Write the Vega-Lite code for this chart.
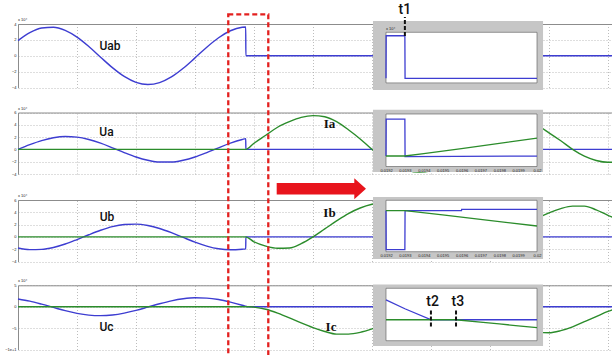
{
"$schema": "https://vega.github.io/schema/vega-lite/v6.json",
"width": 612, "height": 355, "autosize": "none", "padding": 0, "background": "white",
"config": {"view": {"stroke": null},
 "axis": {"labelFontSize": 4, "labelFont": "Liberation Sans", "labelColor": "#222", "gridColor": "#a0a0a0", "gridDash": [1, 2], "gridWidth": 0.7, "domainColor": "#8c8c8c", "domainWidth": 1, "labelFlush": false, "labelOverlap": false, "labelBound": false, "ticks": false}},
"datasets": {
"p1": [
{"t":0,"v":1.90,"s":"U"},{"t":0.001,"v":2.90,"s":"U"},{"t":0.002,"v":3.49,"s":"U"},{"t":0.003,"v":3.60,"s":"U"},{"t":0.004,"v":3.19,"s":"U"},{"t":0.005,"v":2.34,"s":"U"},{"t":0.006,"v":1.16,"s":"U"},{"t":0.007,"v":-0.18,"s":"U"},{"t":0.008,"v":-1.50,"s":"U"},{"t":0.009,"v":-2.61,"s":"U"},{"t":0.010,"v":-3.35,"s":"U"},{"t":0.011,"v":-3.62,"s":"U"},{"t":0.012,"v":-3.38,"s":"U"},{"t":0.013,"v":-2.67,"s":"U"},{"t":0.014,"v":-1.58,"s":"U"},{"t":0.015,"v":-0.27,"s":"U"},{"t":0.016,"v":1.08,"s":"U"},{"t":0.017,"v":2.27,"s":"U"},{"t":0.018,"v":3.15,"s":"U"},{"t":0.019,"v":3.59,"s":"U"},{"t":0.0193,"v":3.62,"s":"U"},{"t":0.01931,"v":0,"s":"U"},{"t":0.0504,"v":0,"s":"U"}],
"p2": [
{"t":0,"v":0,"s":"U"},{"t":0.001,"v":0.77,"s":"U"},{"t":0.002,"v":1.43,"s":"U"},{"t":0.003,"v":1.89,"s":"U"},{"t":0.004,"v":2.09,"s":"U"},{"t":0.005,"v":1.99,"s":"U"},{"t":0.006,"v":1.61,"s":"U"},{"t":0.007,"v":1.01,"s":"U"},{"t":0.008,"v":0.26,"s":"U"},{"t":0.009,"v":-0.52,"s":"U"},{"t":0.010,"v":-1.23,"s":"U"},{"t":0.011,"v":-1.76,"s":"U"},{"t":0.012,"v":-2.05,"s":"U"},{"t":0.013,"v":-2.05,"s":"U"},{"t":0.014,"v":-1.76,"s":"U"},{"t":0.015,"v":-1.23,"s":"U"},{"t":0.016,"v":-0.52,"s":"U"},{"t":0.017,"v":0.26,"s":"U"},{"t":0.018,"v":1.01,"s":"U"},{"t":0.019,"v":1.61,"s":"U"},{"t":0.0193,"v":1.75,"s":"U"},{"t":0.01931,"v":0,"s":"U"},{"t":0.0504,"v":0,"s":"U"},
{"t":0,"v":0,"s":"I"},{"t":0.0193,"v":0,"s":"I"},{"t":0.020,"v":1.0,"s":"I"},{"t":0.021,"v":2.3,"s":"I"},{"t":0.022,"v":3.6,"s":"I"},{"t":0.023,"v":4.5,"s":"I"},{"t":0.024,"v":5.2,"s":"I"},{"t":0.025,"v":5.5,"s":"I"},{"t":0.026,"v":5.3,"s":"I"},{"t":0.027,"v":4.5,"s":"I"},{"t":0.028,"v":3.2,"s":"I"},{"t":0.029,"v":1.7,"s":"I"},{"t":0.030,"v":0,"s":"I"},{"t":0.031,"v":-1.4,"s":"I"},{"t":0.032,"v":-2.6,"s":"I"},{"t":0.033,"v":-3.4,"s":"I"},{"t":0.034,"v":-3.7,"s":"I"},{"t":0.035,"v":-3.5,"s":"I"},{"t":0.036,"v":-2.9,"s":"I"},{"t":0.037,"v":-1.9,"s":"I"},{"t":0.038,"v":-0.6,"s":"I"},{"t":0.039,"v":0.8,"s":"I"},{"t":0.040,"v":2.2,"s":"I"},{"t":0.041,"v":3.4,"s":"I"},{"t":0.042,"v":4.2,"s":"I"},{"t":0.043,"v":4.4,"s":"I"},{"t":0.044,"v":3.9,"s":"I"},{"t":0.045,"v":2.7,"s":"I"},{"t":0.046,"v":1.4,"s":"I"},{"t":0.047,"v":0,"s":"I"},{"t":0.048,"v":-1.1,"s":"I"},{"t":0.049,"v":-1.8,"s":"I"},{"t":0.050,"v":-2.1,"s":"I"},{"t":0.0504,"v":-2.1,"s":"I"}],
"p3": [
{"t":0,"v":-1.81,"s":"U"},{"t":0.001,"v":-2.07,"s":"U"},{"t":0.002,"v":-2.03,"s":"U"},{"t":0.003,"v":-1.72,"s":"U"},{"t":0.004,"v":-1.16,"s":"U"},{"t":0.005,"v":-0.43,"s":"U"},{"t":0.006,"v":0.35,"s":"U"},{"t":0.007,"v":1.08,"s":"U"},{"t":0.008,"v":1.67,"s":"U"},{"t":0.009,"v":2.01,"s":"U"},{"t":0.010,"v":2.08,"s":"U"},{"t":0.011,"v":1.85,"s":"U"},{"t":0.012,"v":1.37,"s":"U"},{"t":0.013,"v":0.69,"s":"U"},{"t":0.014,"v":-0.09,"s":"U"},{"t":0.015,"v":-0.85,"s":"U"},{"t":0.016,"v":-1.49,"s":"U"},{"t":0.017,"v":-1.93,"s":"U"},{"t":0.018,"v":-2.09,"s":"U"},{"t":0.019,"v":-2.0,"s":"U"},{"t":0.0193,"v":-1.95,"s":"U"},{"t":0.01931,"v":0,"s":"U"},{"t":0.0504,"v":0,"s":"U"},
{"t":0,"v":0,"s":"I"},{"t":0.0193,"v":0,"s":"I"},{"t":0.020,"v":-0.8,"s":"I"},{"t":0.021,"v":-1.5,"s":"I"},{"t":0.022,"v":-1.85,"s":"I"},{"t":0.023,"v":-1.8,"s":"I"},{"t":0.024,"v":-1.1,"s":"I"},{"t":0.025,"v":0,"s":"I"},{"t":0.026,"v":1.3,"s":"I"},{"t":0.027,"v":2.6,"s":"I"},{"t":0.028,"v":3.8,"s":"I"},{"t":0.029,"v":4.7,"s":"I"},{"t":0.030,"v":5.3,"s":"I"},{"t":0.031,"v":5.6,"s":"I"},{"t":0.032,"v":5.5,"s":"I"},{"t":0.033,"v":4.8,"s":"I"},{"t":0.034,"v":3.6,"s":"I"},{"t":0.035,"v":2.0,"s":"I"},{"t":0.036,"v":0.3,"s":"I"},{"t":0.037,"v":-1.2,"s":"I"},{"t":0.038,"v":-2.2,"s":"I"},{"t":0.039,"v":-2.6,"s":"I"},{"t":0.040,"v":-2.3,"s":"I"},{"t":0.041,"v":-1.2,"s":"I"},{"t":0.042,"v":0.3,"s":"I"},{"t":0.043,"v":1.8,"s":"I"},{"t":0.044,"v":3.0,"s":"I"},{"t":0.045,"v":3.9,"s":"I"},{"t":0.046,"v":4.6,"s":"I"},{"t":0.047,"v":5.0,"s":"I"},{"t":0.048,"v":5.0,"s":"I"},{"t":0.049,"v":4.4,"s":"I"},{"t":0.050,"v":3.5,"s":"I"},{"t":0.0504,"v":3.2,"s":"I"}],
"p4": [
{"t":0,"v":1.81,"s":"U"},{"t":0.001,"v":1.30,"s":"U"},{"t":0.002,"v":0.60,"s":"U"},{"t":0.003,"v":-0.17,"s":"U"},{"t":0.004,"v":-0.93,"s":"U"},{"t":0.005,"v":-1.55,"s":"U"},{"t":0.006,"v":-1.96,"s":"U"},{"t":0.007,"v":-2.09,"s":"U"},{"t":0.008,"v":-1.93,"s":"U"},{"t":0.009,"v":-1.49,"s":"U"},{"t":0.010,"v":-0.85,"s":"U"},{"t":0.011,"v":-0.09,"s":"U"},{"t":0.012,"v":0.69,"s":"U"},{"t":0.013,"v":1.37,"s":"U"},{"t":0.014,"v":1.85,"s":"U"},{"t":0.015,"v":2.08,"s":"U"},{"t":0.016,"v":2.01,"s":"U"},{"t":0.017,"v":1.67,"s":"U"},{"t":0.018,"v":1.08,"s":"U"},{"t":0.019,"v":0.35,"s":"U"},{"t":0.0192,"v":0.19,"s":"U"},{"t":0.01944,"v":0,"s":"U"},{"t":0.0504,"v":0,"s":"U"},
{"t":0,"v":0,"s":"I"},{"t":0.0196,"v":0,"s":"I"},{"t":0.020,"v":-0.1,"s":"I"},{"t":0.021,"v":-0.6,"s":"I"},{"t":0.022,"v":-1.5,"s":"I"},{"t":0.023,"v":-2.6,"s":"I"},{"t":0.024,"v":-3.8,"s":"I"},{"t":0.025,"v":-4.9,"s":"I"},{"t":0.026,"v":-5.8,"s":"I"},{"t":0.027,"v":-6.4,"s":"I"},{"t":0.028,"v":-6.4,"s":"I"},{"t":0.029,"v":-6.0,"s":"I"},{"t":0.030,"v":-5.2,"s":"I"},{"t":0.031,"v":-4.2,"s":"I"},{"t":0.032,"v":-2.8,"s":"I"},{"t":0.033,"v":-1.0,"s":"I"},{"t":0.034,"v":0.9,"s":"I"},{"t":0.035,"v":2.4,"s":"I"},{"t":0.036,"v":3.3,"s":"I"},{"t":0.037,"v":3.6,"s":"I"},{"t":0.038,"v":3.1,"s":"I"},{"t":0.039,"v":1.9,"s":"I"},{"t":0.040,"v":0.2,"s":"I"},{"t":0.041,"v":-1.8,"s":"I"},{"t":0.042,"v":-3.6,"s":"I"},{"t":0.043,"v":-5.0,"s":"I"},{"t":0.044,"v":-6.0,"s":"I"},{"t":0.045,"v":-6.1,"s":"I"},{"t":0.046,"v":-5.6,"s":"I"},{"t":0.047,"v":-4.7,"s":"I"},{"t":0.048,"v":-3.5,"s":"I"},{"t":0.049,"v":-2.3,"s":"I"},{"t":0.050,"v":-1.1,"s":"I"},{"t":0.0504,"v":-0.7,"s":"I"}],
"i1": [{"t":0.0192,"v":0,"s":"U"},{"t":0.019201,"v":3.7,"s":"U"},{"t":0.0193,"v":3.7,"s":"U"},{"t":0.019301,"v":0,"s":"U"},{"t":0.02,"v":0,"s":"U"}],
"i2": [{"t":0.0192,"v":0,"s":"U"},{"t":0.019201,"v":17600,"s":"U"},{"t":0.0193,"v":17600,"s":"U"},{"t":0.019301,"v":-250,"s":"U"},{"t":0.02,"v":-50,"s":"U"},
{"t":0.0192,"v":0,"s":"I"},{"t":0.0193,"v":0,"s":"I"},{"t":0.0194,"v":1150,"s":"I"},{"t":0.0196,"v":3550,"s":"I"},{"t":0.0198,"v":6000,"s":"I"},{"t":0.02,"v":8500,"s":"I"}],
"i3": [{"t":0.0192,"v":0,"s":"U"},{"t":0.019201,"v":-19000,"s":"U"},{"t":0.0193,"v":-19000,"s":"U"},{"t":0.019301,"v":0,"s":"U"},{"t":0.0196,"v":0,"s":"U"},{"t":0.019601,"v":600,"s":"U"},{"t":0.02,"v":600,"s":"U"},
{"t":0.0192,"v":0,"s":"I"},{"t":0.0193,"v":0,"s":"I"},{"t":0.0195,"v":-2100,"s":"I"},{"t":0.0197,"v":-4300,"s":"I"},{"t":0.02,"v":-7500,"s":"I"}],
"i4": [{"t":0.0192,"v":1900,"s":"U"},{"t":0.0193,"v":1050,"s":"U"},{"t":0.01944,"v":0,"s":"U"},{"t":0.02,"v":0,"s":"U"},
{"t":0.0192,"v":0,"s":"I"},{"t":0.01957,"v":0,"s":"I"},{"t":0.0197,"v":-220,"s":"I"},{"t":0.0198,"v":-400,"s":"I"},{"t":0.0199,"v":-580,"s":"I"},{"t":0.02,"v":-760,"s":"I"}]
},
"layer": [
{"data": {"name": "p1"}, "mark": {"type": "line", "interpolate": "monotone", "strokeWidth": 1.4},
 "encoding": {
  "x": {"field": "t", "type": "quantitative", "scale": {"domain": [0, 0.0504], "range": [18, 612.7], "nice": false, "zero": false}, "axis": {"orient": "top", "offset": -24, "values": [0,0.005,0.01,0.015,0.02,0.025,0.03,0.035,0.04,0.045,0.05], "grid": true, "labels": false, "domain": true, "title": null}},
  "y": {"field": "v", "type": "quantitative", "scale": {"domain": [-4, 4], "range": [87.5, 24], "nice": false, "zero": false}, "axis": {"orient": "left", "offset": -18, "values": [-4,-2,0,2,4], "grid": true, "domain": true, "format": "~g", "labelPadding": 2, "title": null}},
  "color": {"field": "s", "type": "nominal", "scale": {"domain": ["U","I"], "range": ["#3d3dd1","#2b8c2b"]}, "legend": null}}},
{"layer": [
 {"data": {"values": [{}]}, "mark": {"type": "text", "font": "Roboto", "fontSize": 12, "fontWeight": 500, "color": "#111"},
  "encoding": {"x": {"datum": 0.0078, "type": "quantitative", "scale": {"domain": [0, 0.0504], "range": [18, 612.7], "nice": false, "zero": false}, "axis": {"orient": "bottom", "offset": -267.5, "values": [0,0.005,0.01,0.015,0.02,0.025,0.03,0.035,0.04,0.045,0.05], "grid": false, "domain": true, "format": "~g", "labelPadding": 1, "title": null}},
   "y": {"datum": 1.23, "type": "quantitative", "scale": {"domain": [-4, 4], "range": [87.5, 24], "nice": false, "zero": false}, "axis": null}, "text": {"value": "Uab"}}},
 {"data": {"values": [{}]}, "mark": {"type": "text", "fontSize": 4, "align": "left", "dy": -4, "color": "#222", "font": "Liberation Sans"},
  "encoding": {"x": {"datum": 0, "type": "quantitative", "scale": {"domain": [0, 0.0504], "range": [18, 612.7], "nice": false, "zero": false}, "axis": null},
   "y": {"datum": 4, "type": "quantitative", "scale": {"domain": [-4, 4], "range": [87.5, 24], "nice": false, "zero": false}, "axis": null}, "text": {"value": "x 10⁴"}}}
]},
{"layer": [
 {"data": {"values": [{}]}, "mark": {"type": "rect", "fill": "#c6c6c6"},
  "encoding": {"x": {"datum": 0.019131, "type": "quantitative", "scale": {"domain": [0.0192, 0.02], "range": [386, 537], "nice": false, "zero": false}, "axis": {"orient": "top", "offset": -32.3, "values": [0.0192,0.0193,0.0194,0.0195,0.0196,0.0197,0.0198,0.0199,0.02], "grid": true, "labels": false, "domain": false, "zindex": 1, "title": null}}, "x2": {"datum": 0.020032},
   "y": {"datum": 4.98, "type": "quantitative", "scale": {"domain": [-0.4, 4], "range": [82.9, 32.3], "nice": false, "zero": false}, "axis": {"orient": "left", "offset": -386, "values": [0,1,2,3,4], "grid": true, "domain": false, "zindex": 1, "format": "~g", "labelPadding": 2, "title": null}}, "y2": {"datum": -1.02}}},
 {"data": {"values": [{}]}, "mark": {"type": "rect", "fill": "white", "stroke": "#555", "strokeWidth": 0.6},
  "encoding": {"x": {"datum": 0.0192, "type": "quantitative", "scale": {"domain": [0.0192, 0.02], "range": [386, 537], "nice": false, "zero": false}, "axis": null}, "x2": {"datum": 0.02},
   "y": {"datum": 4, "type": "quantitative", "scale": {"domain": [-0.4, 4], "range": [82.9, 32.3], "nice": false, "zero": false}, "axis": null}, "y2": {"datum": -0.4}}}
]},
{"layer": [
 {"data": {"name": "i1"}, "mark": {"type": "line", "strokeWidth": 1.3},
  "encoding": {"x": {"field": "t", "type": "quantitative", "scale": {"domain": [0.0192, 0.02], "range": [386, 537], "nice": false, "zero": false}, "axis": {"orient": "bottom", "offset": -272.1, "values": [0.0192,0.0193,0.0194,0.0195,0.0196,0.0197,0.0198,0.0199,0.02], "grid": false, "domain": false, "zindex": 1, "format": "~g", "labelPadding": 1.5, "title": null}},
   "y": {"field": "v", "type": "quantitative", "scale": {"domain": [-0.4, 4], "range": [82.9, 32.3], "nice": false, "zero": false}, "axis": null},
   "color": {"field": "s", "type": "nominal", "scale": {"domain": ["U","I"], "range": ["#3d3dd1","#2b8c2b"]}, "legend": null}}},
 {"data": {"values": [{}]}, "mark": {"type": "text", "fontSize": 4, "align": "left", "dy": -3, "color": "#222", "font": "Liberation Sans"},
  "encoding": {"x": {"datum": 0.0192, "type": "quantitative", "scale": {"domain": [0.0192, 0.02], "range": [386, 537], "nice": false, "zero": false}, "axis": null},
   "y": {"datum": 4, "type": "quantitative", "scale": {"domain": [-0.4, 4], "range": [82.9, 32.3], "nice": false, "zero": false}, "axis": null}, "text": {"value": "x 10⁴"}}},
 {"data": {"values": [{}]}, "mark": {"type": "rule", "strokeDash": [4, 2], "strokeWidth": 2, "color": "#111"},
  "encoding": {"x": {"datum": 0.0193, "type": "quantitative", "scale": {"domain": [0.0192, 0.02], "range": [386, 537], "nice": false, "zero": false}, "axis": null},
   "y": {"datum": 3.68, "type": "quantitative", "scale": {"domain": [-0.4, 4], "range": [82.9, 32.3], "nice": false, "zero": false}, "axis": null}, "y2": {"datum": 5.33}}},
 {"data": {"values": [{}]}, "mark": {"type": "text", "font": "Roboto", "fontSize": 14, "fontWeight": 500, "color": "#111"},
  "encoding": {"x": {"datum": 0.0193, "type": "quantitative", "scale": {"domain": [0.0192, 0.02], "range": [386, 537], "nice": false, "zero": false}, "axis": null},
   "y": {"datum": 5.9, "type": "quantitative", "scale": {"domain": [-0.4, 4], "range": [82.9, 32.3], "nice": false, "zero": false}, "axis": null}, "text": {"value": "t1"}}}
]},
{"data": {"name": "p2"}, "mark": {"type": "line", "interpolate": "monotone", "strokeWidth": 1.4},
 "encoding": {
  "x": {"field": "t", "type": "quantitative", "scale": {"domain": [0, 0.0504], "range": [18, 612.7], "nice": false, "zero": false}, "axis": {"orient": "top", "offset": -112.5, "values": [0,0.005,0.01,0.015,0.02,0.025,0.03,0.035,0.04,0.045,0.05], "grid": true, "labels": false, "domain": true, "title": null}},
  "y": {"field": "v", "type": "quantitative", "scale": {"domain": [-4, 6], "range": [174, 112.5], "nice": false, "zero": false}, "axis": {"orient": "left", "offset": -18, "values": [-4,-2,0,2,4,6], "grid": true, "domain": true, "format": "~g", "labelPadding": 2, "title": null}},
  "color": {"field": "s", "type": "nominal", "scale": {"domain": ["U","I"], "range": ["#3d3dd1","#2b8c2b"]}, "legend": null}}},
{"layer": [
 {"data": {"values": [{}]}, "mark": {"type": "text", "font": "Roboto", "fontSize": 12, "fontWeight": 500, "color": "#111"},
  "encoding": {"x": {"datum": 0.0075, "type": "quantitative", "scale": {"domain": [0, 0.0504], "range": [18, 612.7], "nice": false, "zero": false}, "axis": {"orient": "bottom", "offset": -181, "values": [0,0.005,0.01,0.015,0.02,0.025,0.03,0.035,0.04,0.045,0.05], "grid": false, "domain": true, "format": "~g", "labelPadding": 1, "title": null}},
   "y": {"datum": 2.88, "type": "quantitative", "scale": {"domain": [-4, 6], "range": [174, 112.5], "nice": false, "zero": false}, "axis": null}, "text": {"value": "Ua"}}},
 {"data": {"values": [{}]}, "mark": {"type": "text", "font": "Liberation Serif", "fontSize": 13, "fontWeight": "bold", "color": "#111"},
  "encoding": {"x": {"datum": 0.0264, "type": "quantitative", "scale": {"domain": [0, 0.0504], "range": [18, 612.7], "nice": false, "zero": false}, "axis": null},
   "y": {"datum": 4.13, "type": "quantitative", "scale": {"domain": [-4, 6], "range": [174, 112.5], "nice": false, "zero": false}, "axis": null}, "text": {"value": "Ia"}}},
 {"data": {"values": [{}]}, "mark": {"type": "text", "fontSize": 4, "align": "left", "dy": -4, "color": "#222", "font": "Liberation Sans"},
  "encoding": {"x": {"datum": 0, "type": "quantitative", "scale": {"domain": [0, 0.0504], "range": [18, 612.7], "nice": false, "zero": false}, "axis": null},
   "y": {"datum": 6, "type": "quantitative", "scale": {"domain": [-4, 6], "range": [174, 112.5], "nice": false, "zero": false}, "axis": null}, "text": {"value": "x 10⁴"}}}
]},
{"layer": [
 {"data": {"values": [{}]}, "mark": {"type": "rect", "fill": "#c6c6c6"},
  "encoding": {"x": {"datum": 0.019131, "type": "quantitative", "scale": {"domain": [0.0192, 0.02], "range": [386, 537], "nice": false, "zero": false}, "axis": {"orient": "top", "offset": -114, "values": [0.0192,0.0193,0.0194,0.0195,0.0196,0.0197,0.0198,0.0199,0.02], "grid": true, "labels": false, "domain": false, "zindex": 1, "title": null}}, "x2": {"datum": 0.020032},
   "y": {"datum": 22059, "type": "quantitative", "scale": {"domain": [-5000, 20000], "range": [166.5, 114], "nice": false, "zero": false}, "axis": {"orient": "left", "offset": -386, "values": [-5000,0,5000,10000,15000,20000], "grid": true, "domain": false, "zindex": 1, "format": "~g", "labelPadding": 2, "title": null}}, "y2": {"datum": -7634}}},
 {"data": {"values": [{}]}, "mark": {"type": "rect", "fill": "white", "stroke": "#555", "strokeWidth": 0.6},
  "encoding": {"x": {"datum": 0.0192, "type": "quantitative", "scale": {"domain": [0.0192, 0.02], "range": [386, 537], "nice": false, "zero": false}, "axis": null}, "x2": {"datum": 0.02},
   "y": {"datum": 20000, "type": "quantitative", "scale": {"domain": [-5000, 20000], "range": [166.5, 114], "nice": false, "zero": false}, "axis": null}, "y2": {"datum": -5000}}}
]},
{"layer": [
 {"data": {"name": "i2"}, "mark": {"type": "line", "strokeWidth": 1.3},
  "encoding": {"x": {"field": "t", "type": "quantitative", "scale": {"domain": [0.0192, 0.02], "range": [386, 537], "nice": false, "zero": false}, "axis": {"orient": "bottom", "offset": -188.5, "values": [0.0192,0.0193,0.0194,0.0195,0.0196,0.0197,0.0198,0.0199,0.02], "grid": false, "domain": false, "zindex": 1, "format": "~g", "labelPadding": 1.5, "title": null}},
   "y": {"field": "v", "type": "quantitative", "scale": {"domain": [-5000, 20000], "range": [166.5, 114], "nice": false, "zero": false}, "axis": null},
   "color": {"field": "s", "type": "nominal", "scale": {"domain": ["U","I"], "range": ["#3d3dd1","#2b8c2b"]}, "legend": null}}}
]},
{"data": {"name": "p3"}, "mark": {"type": "line", "interpolate": "monotone", "strokeWidth": 1.4},
 "encoding": {
  "x": {"field": "t", "type": "quantitative", "scale": {"domain": [0, 0.0504], "range": [18, 612.7], "nice": false, "zero": false}, "axis": {"orient": "top", "offset": -200, "values": [0,0.005,0.01,0.015,0.02,0.025,0.03,0.035,0.04,0.045,0.05], "grid": true, "labels": false, "domain": true, "title": null}},
  "y": {"field": "v", "type": "quantitative", "scale": {"domain": [-4, 6], "range": [261.5, 200], "nice": false, "zero": false}, "axis": {"orient": "left", "offset": -18, "values": [-4,-2,0,2,4,6], "grid": true, "domain": true, "format": "~g", "labelPadding": 2, "title": null}},
  "color": {"field": "s", "type": "nominal", "scale": {"domain": ["U","I"], "range": ["#3d3dd1","#2b8c2b"]}, "legend": null}}},
{"layer": [
 {"data": {"values": [{}]}, "mark": {"type": "text", "font": "Roboto", "fontSize": 12, "fontWeight": 500, "color": "#111"},
  "encoding": {"x": {"datum": 0.00754, "type": "quantitative", "scale": {"domain": [0, 0.0504], "range": [18, 612.7], "nice": false, "zero": false}, "axis": {"orient": "bottom", "offset": -93.5, "values": [0,0.005,0.01,0.015,0.02,0.025,0.03,0.035,0.04,0.045,0.05], "grid": false, "domain": true, "format": "~g", "labelPadding": 1, "title": null}},
   "y": {"datum": 3.28, "type": "quantitative", "scale": {"domain": [-4, 6], "range": [261.5, 200], "nice": false, "zero": false}, "axis": null}, "text": {"value": "Ub"}}},
 {"data": {"values": [{}]}, "mark": {"type": "text", "font": "Liberation Serif", "fontSize": 13, "fontWeight": "bold", "color": "#111"},
  "encoding": {"x": {"datum": 0.0264, "type": "quantitative", "scale": {"domain": [0, 0.0504], "range": [18, 612.7], "nice": false, "zero": false}, "axis": null},
   "y": {"datum": 3.89, "type": "quantitative", "scale": {"domain": [-4, 6], "range": [261.5, 200], "nice": false, "zero": false}, "axis": null}, "text": {"value": "Ib"}}},
 {"data": {"values": [{}]}, "mark": {"type": "text", "fontSize": 4, "align": "left", "dy": -4, "color": "#222", "font": "Liberation Sans"},
  "encoding": {"x": {"datum": 0, "type": "quantitative", "scale": {"domain": [0, 0.0504], "range": [18, 612.7], "nice": false, "zero": false}, "axis": null},
   "y": {"datum": 6, "type": "quantitative", "scale": {"domain": [-4, 6], "range": [261.5, 200], "nice": false, "zero": false}, "axis": null}, "text": {"value": "x 10⁴"}}}
]},
{"layer": [
 {"data": {"values": [{}]}, "mark": {"type": "rect", "fill": "#c6c6c6"},
  "encoding": {"x": {"datum": 0.019131, "type": "quantitative", "scale": {"domain": [0.0192, 0.02], "range": [386, 537], "nice": false, "zero": false}, "axis": {"orient": "top", "offset": -200.3, "values": [0.0192,0.0193,0.0194,0.0195,0.0196,0.0197,0.0198,0.0199,0.02], "grid": true, "labels": false, "domain": false, "zindex": 1, "title": null}}, "x2": {"datum": 0.020032},
   "y": {"datum": 6605, "type": "quantitative", "scale": {"domain": [-20000, 5000], "range": [251.7, 200.3], "nice": false, "zero": false}, "axis": {"orient": "left", "offset": -386, "values": [-20000,-15000,-10000,-5000,0,5000], "grid": true, "domain": false, "zindex": 1, "format": "~g", "labelPadding": 2, "title": null}}, "y2": {"datum": -23551}}},
 {"data": {"values": [{}]}, "mark": {"type": "rect", "fill": "white", "stroke": "#555", "strokeWidth": 0.6},
  "encoding": {"x": {"datum": 0.0192, "type": "quantitative", "scale": {"domain": [0.0192, 0.02], "range": [386, 537], "nice": false, "zero": false}, "axis": null}, "x2": {"datum": 0.02},
   "y": {"datum": 5000, "type": "quantitative", "scale": {"domain": [-20000, 5000], "range": [251.7, 200.3], "nice": false, "zero": false}, "axis": null}, "y2": {"datum": -20000}}}
]},
{"layer": [
 {"data": {"name": "i3"}, "mark": {"type": "line", "strokeWidth": 1.3},
  "encoding": {"x": {"field": "t", "type": "quantitative", "scale": {"domain": [0.0192, 0.02], "range": [386, 537], "nice": false, "zero": false}, "axis": {"orient": "bottom", "offset": -103.3, "values": [0.0192,0.0193,0.0194,0.0195,0.0196,0.0197,0.0198,0.0199,0.02], "grid": false, "domain": false, "zindex": 1, "format": "~g", "labelPadding": 1.5, "title": null}},
   "y": {"field": "v", "type": "quantitative", "scale": {"domain": [-20000, 5000], "range": [251.7, 200.3], "nice": false, "zero": false}, "axis": null},
   "color": {"field": "s", "type": "nominal", "scale": {"domain": ["U","I"], "range": ["#3d3dd1","#2b8c2b"]}, "legend": null}}}
]},
{"data": {"name": "p4"}, "mark": {"type": "line", "interpolate": "monotone", "strokeWidth": 1.4},
 "encoding": {
  "x": {"field": "t", "type": "quantitative", "scale": {"domain": [0, 0.0504], "range": [18, 612.7], "nice": false, "zero": false}, "axis": {"orient": "top", "offset": -285.3, "values": [0,0.005,0.01,0.015,0.02,0.025,0.03,0.035,0.04,0.045,0.05], "grid": true, "labels": false, "domain": true, "title": null}},
  "y": {"field": "v", "type": "quantitative", "scale": {"domain": [-10, 5], "range": [349.5, 285.3], "nice": false, "zero": false}, "axis": {"orient": "left", "offset": -18, "values": [-10,-5,0,5], "grid": true, "domain": true, "format": "~g", "labelPadding": 2, "title": null}},
  "color": {"field": "s", "type": "nominal", "scale": {"domain": ["U","I"], "range": ["#3d3dd1","#2b8c2b"]}, "legend": null}}},
{"layer": [
 {"data": {"values": [{}]}, "mark": {"type": "text", "font": "Roboto", "fontSize": 12, "fontWeight": 500, "color": "#111"},
  "encoding": {"x": {"datum": 0.0075, "type": "quantitative", "scale": {"domain": [0, 0.0504], "range": [18, 612.7], "nice": false, "zero": false}, "axis": {"orient": "bottom", "offset": -5.5, "values": [0,0.005,0.01,0.015,0.02,0.025,0.03,0.035,0.04,0.045,0.05], "grid": false, "domain": true, "format": "~g", "labelPadding": 1, "title": null}},
   "y": {"datum": -4.67, "type": "quantitative", "scale": {"domain": [-10, 5], "range": [349.5, 285.3], "nice": false, "zero": false}, "axis": null}, "text": {"value": "Uc"}}},
 {"data": {"values": [{}]}, "mark": {"type": "text", "font": "Liberation Serif", "fontSize": 13, "fontWeight": "bold", "color": "#111"},
  "encoding": {"x": {"datum": 0.02653, "type": "quantitative", "scale": {"domain": [0, 0.0504], "range": [18, 612.7], "nice": false, "zero": false}, "axis": null},
   "y": {"datum": -4.67, "type": "quantitative", "scale": {"domain": [-10, 5], "range": [349.5, 285.3], "nice": false, "zero": false}, "axis": null}, "text": {"value": "Ic"}}},
 {"data": {"values": [{}]}, "mark": {"type": "text", "fontSize": 4, "align": "left", "dy": -4, "color": "#222", "font": "Liberation Sans"},
  "encoding": {"x": {"datum": 0, "type": "quantitative", "scale": {"domain": [0, 0.0504], "range": [18, 612.7], "nice": false, "zero": false}, "axis": null},
   "y": {"datum": 5, "type": "quantitative", "scale": {"domain": [-10, 5], "range": [349.5, 285.3], "nice": false, "zero": false}, "axis": null}, "text": {"value": "x 10⁴"}}},
 {"data": {"values": [{}]}, "mark": {"type": "rect", "fill": "transparent", "stroke": "#e3201f", "strokeWidth": 2.3, "strokeDash": [5, 3]},
  "encoding": {"x": {"datum": 0.01782, "type": "quantitative", "scale": {"domain": [0, 0.0504], "range": [18, 612.7], "nice": false, "zero": false}, "axis": null}, "x2": {"datum": 0.021212},
   "y": {"datum": 68.3, "type": "quantitative", "scale": {"domain": [-10, 5], "range": [349.5, 285.3], "nice": false, "zero": false}, "axis": null}, "y2": {"datum": -12.4}}},
 {"data": {"values": [{}]}, "mark": {"type": "point", "shape": "M-1,-0.127L0.738,-0.127L0.738,-0.235L1,0L0.738,0.235L0.738,0.127L-1,0.127Z", "size": 7974, "filled": true, "color": "#e8141c", "opacity": 1, "strokeWidth": 0},
  "encoding": {"x": {"datum": 0.025708, "type": "quantitative", "scale": {"domain": [0, 0.0504], "range": [18, 612.7], "nice": false, "zero": false}, "axis": null},
   "y": {"datum": 27.55, "type": "quantitative", "scale": {"domain": [-10, 5], "range": [349.5, 285.3], "nice": false, "zero": false}, "axis": null}}}
]},
{"layer": [
 {"data": {"values": [{}]}, "mark": {"type": "rect", "fill": "#c6c6c6"},
  "encoding": {"x": {"datum": 0.019131, "type": "quantitative", "scale": {"domain": [0.0192, 0.02], "range": [386, 537], "nice": false, "zero": false}, "axis": {"orient": "top", "offset": -288.3, "values": [0.0192,0.0193,0.0194,0.0195,0.0196,0.0197,0.0198,0.0199,0.02], "grid": true, "labels": false, "domain": false, "zindex": 1, "title": null}}, "x2": {"datum": 0.020032},
   "y": {"datum": 3363, "type": "quantitative", "scale": {"domain": [-2000, 3000], "range": [340.7, 288.3], "nice": false, "zero": false}, "axis": {"orient": "left", "offset": -386, "values": [-2000,-1000,0,1000,2000,3000], "grid": true, "domain": false, "zindex": 1, "format": "~g", "labelPadding": 2, "title": null}}, "y2": {"datum": -2506}}},
 {"data": {"values": [{}]}, "mark": {"type": "rect", "fill": "white", "stroke": "#555", "strokeWidth": 0.6},
  "encoding": {"x": {"datum": 0.0192, "type": "quantitative", "scale": {"domain": [0.0192, 0.02], "range": [386, 537], "nice": false, "zero": false}, "axis": null}, "x2": {"datum": 0.02},
   "y": {"datum": 3000, "type": "quantitative", "scale": {"domain": [-2000, 3000], "range": [340.7, 288.3], "nice": false, "zero": false}, "axis": null}, "y2": {"datum": -2000}}}
]},
{"layer": [
 {"data": {"name": "i4"}, "mark": {"type": "line", "strokeWidth": 1.3},
  "encoding": {"x": {"field": "t", "type": "quantitative", "scale": {"domain": [0.0192, 0.02], "range": [386, 537], "nice": false, "zero": false}, "axis": {"orient": "bottom", "offset": -14.3, "values": [0.0192,0.0193,0.0194,0.0195,0.0196,0.0197,0.0198,0.0199,0.02], "grid": false, "domain": false, "zindex": 1, "format": "~g", "labelPadding": 1.5, "title": null}},
   "y": {"field": "v", "type": "quantitative", "scale": {"domain": [-2000, 3000], "range": [340.7, 288.3], "nice": false, "zero": false}, "axis": null},
   "color": {"field": "s", "type": "nominal", "scale": {"domain": ["U","I"], "range": ["#3d3dd1","#2b8c2b"]}, "legend": null}}},
 {"data": {"values": [{}]}, "mark": {"type": "rule", "strokeDash": [4, 2], "strokeWidth": 2, "color": "#111"},
  "encoding": {"x": {"datum": 0.019438, "type": "quantitative", "scale": {"domain": [0.0192, 0.02], "range": [386, 537], "nice": false, "zero": false}, "axis": null},
   "y": {"datum": 890, "type": "quantitative", "scale": {"domain": [-2000, 3000], "range": [340.7, 288.3], "nice": false, "zero": false}, "axis": null}, "y2": {"datum": -730}}},
 {"data": {"values": [{}]}, "mark": {"type": "rule", "strokeDash": [4, 2], "strokeWidth": 2, "color": "#111"},
  "encoding": {"x": {"datum": 0.019571, "type": "quantitative", "scale": {"domain": [0.0192, 0.02], "range": [386, 537], "nice": false, "zero": false}, "axis": null},
   "y": {"datum": 890, "type": "quantitative", "scale": {"domain": [-2000, 3000], "range": [340.7, 288.3], "nice": false, "zero": false}, "axis": null}, "y2": {"datum": -730}}},
 {"data": {"values": [{}]}, "mark": {"type": "text", "font": "Roboto", "fontSize": 14, "fontWeight": 500, "color": "#111"},
  "encoding": {"x": {"datum": 0.019447, "type": "quantitative", "scale": {"domain": [0.0192, 0.02], "range": [386, 537], "nice": false, "zero": false}, "axis": null},
   "y": {"datum": 1700, "type": "quantitative", "scale": {"domain": [-2000, 3000], "range": [340.7, 288.3], "nice": false, "zero": false}, "axis": null}, "text": {"value": "t2"}}},
 {"data": {"values": [{}]}, "mark": {"type": "text", "font": "Roboto", "fontSize": 14, "fontWeight": 500, "color": "#111"},
  "encoding": {"x": {"datum": 0.019581, "type": "quantitative", "scale": {"domain": [0.0192, 0.02], "range": [386, 537], "nice": false, "zero": false}, "axis": null},
   "y": {"datum": 1700, "type": "quantitative", "scale": {"domain": [-2000, 3000], "range": [340.7, 288.3], "nice": false, "zero": false}, "axis": null}, "text": {"value": "t3"}}}
]}
],
"resolve": {"scale": {"x": "independent", "y": "independent"}}
}
